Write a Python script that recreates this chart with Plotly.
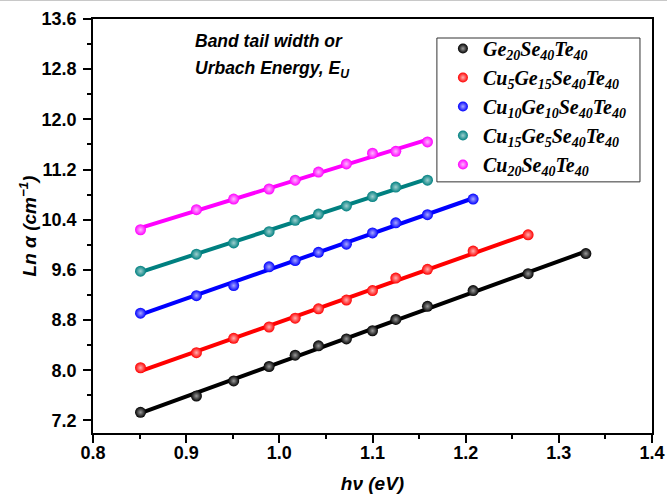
import numpy as np
import plotly.graph_objects as go

# ---- data ----
hv = [0.851, 0.911, 0.951, 0.989, 1.017, 1.042, 1.072, 1.100, 1.125, 1.159, 1.208, 1.267, 1.329]

ln_alpha_ge20 = [7.33, 7.59, 7.83, 8.06, 8.24, 8.39, 8.50, 8.63, 8.81, 9.02, 9.27, 9.54, 9.86]
ln_alpha_cu5 = [8.04, 8.28, 8.51, 8.69, 8.83, 8.98, 9.12, 9.27, 9.47, 9.61, 9.90, 10.16]
ln_alpha_cu10 = [8.91, 9.19, 9.35, 9.65, 9.75, 9.88, 10.01, 10.19, 10.35, 10.48, 10.73]
ln_alpha_cu15 = [9.58, 9.85, 10.03, 10.21, 10.39, 10.49, 10.62, 10.77, 10.92, 11.03]
ln_alpha_cu20 = [10.24, 10.56, 10.73, 10.89, 11.03, 11.16, 11.29, 11.46, 11.49, 11.64]

series_names = [
    "Ge<sub>20</sub>Se<sub>40</sub>Te<sub>40</sub>",
    "Cu<sub>5</sub>Ge<sub>15</sub>Se<sub>40</sub>Te<sub>40</sub>",
    "Cu<sub>10</sub>Ge<sub>10</sub>Se<sub>40</sub>Te<sub>40</sub>",
    "Cu<sub>15</sub>Ge<sub>5</sub>Se<sub>40</sub>Te<sub>40</sub>",
    "Cu<sub>20</sub>Se<sub>40</sub>Te<sub>40</sub>",
]
series_values = [ln_alpha_ge20, ln_alpha_cu5, ln_alpha_cu10, ln_alpha_cu15, ln_alpha_cu20]
colors = ["#000000", "#FF0000", "#0000FF", "#008080", "#FF00FF"]
highlights = ["#9a9a9a", "#ffb0b0", "#a8a8ff", "#9fd0d0", "#ffb8ff"]

fig = go.Figure()

for name, vals, c, hl in zip(series_names, series_values, colors, highlights):
    x = np.array(hv[:len(vals)])
    y = np.array(vals)
    k, b = np.polyfit(x, y, 1)
    xf = np.array([x[0], x[-1]])
    fig.add_trace(go.Scatter(x=xf, y=k * xf + b, mode="lines",
                             line=dict(color=c, width=4), showlegend=False,
                             hoverinfo="skip"))
    fig.add_trace(go.Scatter(x=x, y=y, mode="markers", showlegend=False,
                             marker=dict(size=11, color=c,
                                         gradient=dict(type="radial", color=hl),
                                         line=dict(width=0))))
    fig.add_trace(go.Scatter(x=[None], y=[None], mode="markers",
                             name="<b><i>" + name + "</i></b>",
                             marker=dict(size=10, color=c,
                                         gradient=dict(type="radial", color=hl),
                                         line=dict(width=0))))

axis_font = dict(family="Liberation Sans", size=18, color="black", weight="bold")

fig.update_xaxes(range=[0.8, 1.4], dtick=0.1, tick0=0.8, tickformat=".1f",
                 showgrid=False, zeroline=False, automargin=False,
                 showline=True, linecolor="black", linewidth=1.5, mirror=True,
                 ticks="outside", ticklen=8, tickwidth=1.5, tickcolor="black",
                 ticklabelstandoff=-5,
                 minor=dict(dtick=0.05, ticks="outside", ticklen=4, tickwidth=1.5, tickcolor="black"),
                 tickfont=axis_font,
                 title=dict(text="<b><i>hν (eV)</i></b>",
                            font=dict(family="Liberation Sans", size=19, color="black"),
                            standoff=14))
fig.update_yaxes(range=[7.0, 13.6], dtick=0.8, tick0=7.2, tickformat=".1f",
                 showgrid=False, zeroline=False, automargin=False,
                 showline=True, linecolor="black", linewidth=1.5, mirror=True,
                 ticks="outside", ticklen=8, tickwidth=1.5, tickcolor="black",
                 ticklabelstandoff=3,
                 minor=dict(dtick=0.4, tick0=7.2, ticks="outside", ticklen=4, tickwidth=1.5, tickcolor="black"),
                 tickfont=axis_font,
                 title=dict(text="<b><i>Ln α (cm<sup>−1</sup>)</i></b>",
                            font=dict(family="Liberation Sans", size=19, color="black"),
                            standoff=0))

fig.add_annotation(xref="paper", yref="paper", x=0.1785, y=0.9465,
                   xanchor="left", yanchor="middle", showarrow=False,
                   text="<b><i>Band tail width or</i></b>",
                   font=dict(family="Liberation Sans", size=17.5, color="black"))
fig.add_annotation(xref="paper", yref="paper", x=0.1785, y=0.878,
                   xanchor="left", yanchor="middle", showarrow=False,
                   text="<b><i>Urbach Energy, E<sub>U</sub></i></b>",
                   font=dict(family="Liberation Sans", size=17.5, color="black"))

# thin grey line along the top edge of the image
fig.add_shape(type="line", xref="paper", yref="paper", x0=-0.2, x1=1.05,
              y0=1.0447, y1=1.0447, line=dict(color="#c8c8c8", width=1))
# legend frame
fig.add_shape(type="rect", xref="paper", yref="paper",
              x0=0.6152, x1=0.9785, y0=0.6066, y1=0.9541,
              line=dict(color="#333333", width=1), fillcolor="white")

fig.update_layout(
    width=667, height=498, autosize=False,
    margin=dict(l=93, r=15, t=19, b=65),
    paper_bgcolor="white", plot_bgcolor="white",
    legend=dict(x=0.626, y=0.9759, xanchor="left", yanchor="top",
                bgcolor="rgba(0,0,0,0)", borderwidth=0,
                font=dict(family="Liberation Serif", size=20, color="black"),
                itemsizing="trace", tracegroupgap=0),
)

fig.write_html("out.html")
